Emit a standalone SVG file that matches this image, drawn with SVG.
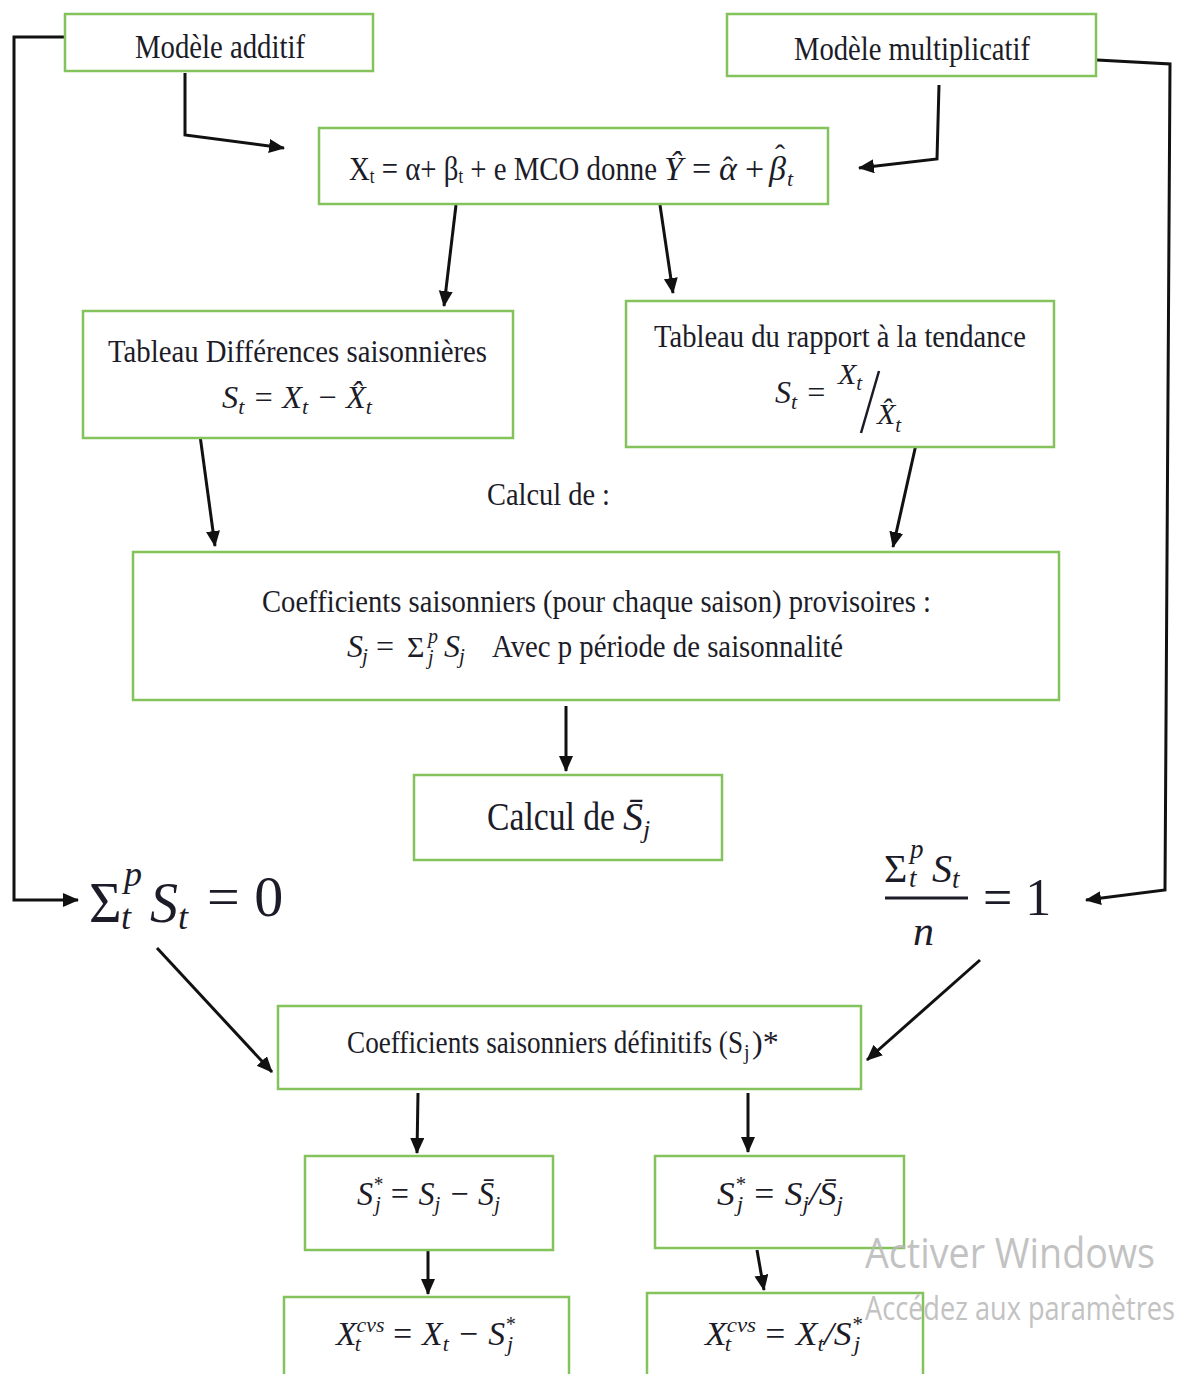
<svg xmlns="http://www.w3.org/2000/svg" width="1191" height="1374" viewBox="0 0 1191 1374">
<defs>
<marker id="ah" markerUnits="userSpaceOnUse" markerWidth="18" markerHeight="16" refX="15" refY="7" orient="auto">
<path d="M0,0 L16,7 L0,14 z" fill="#111"/>
</marker>
<style>
.box{fill:#fff;stroke:#84c25c;stroke-width:2.5}
.t{font-family:"Liberation Serif","Times New Roman",serif;fill:#1c1c28}
.m{font-family:"Liberation Serif","Times New Roman",serif;font-style:italic;fill:#1c1c28}
.c{fill:none;stroke:#111;stroke-width:3}
.wm{font-family:"Open Sans","Noto Sans",sans-serif;fill:#b8b8b8;opacity:0.85}
</style>
</defs>
<rect width="1191" height="1374" fill="#fff"/>

<g id="connectors">
<polyline class="c" points="65,37 14,37 14,900 78,900" marker-end="url(#ah)"/>
<polyline class="c" points="185,73 185,135 284,148" marker-end="url(#ah)"/>
<polyline class="c" points="939,85 937,159 859,168" marker-end="url(#ah)"/>
<polyline class="c" points="1097,60 1170,64 1165,890 1086,900" marker-end="url(#ah)"/>
<line class="c" x1="456" y1="205" x2="444" y2="306" marker-end="url(#ah)"/>
<line class="c" x1="660" y1="205" x2="673" y2="293" marker-end="url(#ah)"/>
<line class="c" x1="199" y1="428" x2="215" y2="546" marker-end="url(#ah)"/>
<line class="c" x1="917" y1="440" x2="893" y2="547" marker-end="url(#ah)"/>
<line class="c" x1="566" y1="706" x2="566" y2="771" marker-end="url(#ah)"/>
<line class="c" x1="157" y1="948" x2="272" y2="1072" marker-end="url(#ah)"/>
<line class="c" x1="980" y1="960" x2="867" y2="1060" marker-end="url(#ah)"/>
<line class="c" x1="418" y1="1093" x2="417" y2="1153" marker-end="url(#ah)"/>
<line class="c" x1="748" y1="1093" x2="748" y2="1152" marker-end="url(#ah)"/>
<line class="c" x1="428" y1="1250" x2="428" y2="1294" marker-end="url(#ah)"/>
<line class="c" x1="757" y1="1250" x2="764" y2="1290" marker-end="url(#ah)"/>
</g>

<g id="modele-additif">
<rect class="box" x="65" y="14" width="308" height="57"/>
<text class="t" x="135" y="58" font-size="34" textLength="170" lengthAdjust="spacingAndGlyphs">Modèle additif</text>
</g>

<g id="modele-multiplicatif">
<rect class="box" x="727" y="14" width="369" height="62"/>
<text class="t" x="794" y="60" font-size="34" textLength="236" lengthAdjust="spacingAndGlyphs">Modèle multiplicatif</text>
</g>

<g id="formule-mco">
<rect class="box" x="319" y="128" width="509" height="76"/>
<text class="t" x="349" y="180" font-size="34" textLength="308" lengthAdjust="spacingAndGlyphs">X<tspan font-size="20" dy="3">t</tspan><tspan dy="-3"> = α+ β</tspan><tspan font-size="20" dy="3">t</tspan><tspan dy="-3"> + e MCO donne</tspan></text>
<text class="m" x="664" y="180" font-size="34">Ŷ</text>
<text class="t" x="692" y="180" font-size="34">=</text>
<text class="m" x="719" y="180" font-size="34">α</text>
<text class="t" x="723" y="177" font-size="30">ˆ</text>
<text class="t" x="745" y="180" font-size="34">+</text>
<text class="m" x="769" y="180" font-size="34">β</text>
<text class="t" x="775" y="165" font-size="30">ˆ</text>
<text class="m" x="787" y="186" font-size="22">t</text>
</g>

<g id="tableau-differences">
<rect class="box" x="83" y="311" width="430" height="127"/>
<text class="t" x="108" y="362" font-size="32" textLength="379" lengthAdjust="spacingAndGlyphs">Tableau Différences saisonnières</text>
<text class="m" x="222" y="408" font-size="32" textLength="150" lengthAdjust="spacingAndGlyphs">S<tspan font-size="22" dy="6">t</tspan><tspan dy="-6"> = X</tspan><tspan font-size="22" dy="6">t</tspan><tspan dy="-6"> − X̂</tspan><tspan font-size="22" dy="6">t</tspan></text>
</g>

<g id="tableau-rapport">
<rect class="box" x="626" y="301" width="428" height="146"/>
<text class="t" x="654" y="347" font-size="32" textLength="372" lengthAdjust="spacingAndGlyphs">Tableau du rapport à la tendance</text>
<text class="m" x="775" y="403" font-size="32">S<tspan font-size="22" dy="6">t</tspan><tspan dy="-6"> =</tspan></text>
<text class="m" x="838" y="384" font-size="30">X<tspan font-size="21" dy="6">t</tspan></text>
<line x1="861" y1="433" x2="879" y2="371" stroke="#1c1c28" stroke-width="2.5"/>
<text class="m" x="877" y="424" font-size="30">X̂<tspan font-size="21" dy="8">t</tspan></text>
</g>

<g id="calcul-de-label">
<text class="t" x="487" y="505" font-size="32" textLength="123" lengthAdjust="spacingAndGlyphs">Calcul de :</text>
</g>

<g id="coefficients-provisoires">
<rect class="box" x="133" y="552" width="926" height="148"/>
<text class="t" x="262" y="612" font-size="32" textLength="669" lengthAdjust="spacingAndGlyphs">Coefficients saisonniers (pour chaque saison) provisoires :</text>
<text class="m" x="347" y="657" font-size="32">S</text>
<text class="m" x="362" y="663" font-size="21">j</text>
<text class="t" x="376" y="657" font-size="32">=</text>
<text class="t" x="407" y="657" font-size="30">Σ</text>
<text class="m" x="428" y="643" font-size="20">p</text>
<text class="m" x="428" y="664" font-size="20">j</text>
<text class="m" x="444" y="657" font-size="32">S</text>
<text class="m" x="459" y="663" font-size="21">j</text>
<text class="t" x="492" y="657" font-size="32" textLength="351" lengthAdjust="spacingAndGlyphs">Avec p période de saisonnalité</text>
</g>

<g id="calcul-sbar">
<rect class="box" x="414" y="775" width="308" height="85"/>
<text class="t" x="487" y="830" font-size="40" textLength="128" lengthAdjust="spacingAndGlyphs">Calcul de</text>
<text class="m" x="623" y="830" font-size="40">S̄<tspan font-size="26" dy="8">j</tspan></text>
</g>

<g id="somme-zero">
<text class="t" x="89" y="922" font-size="56">Σ</text>
<text class="m" x="124" y="886" font-size="36">p</text>
<text class="m" x="121" y="929" font-size="36">t</text>
<text class="m" x="150" y="922" font-size="56">S</text>
<text class="m" x="178" y="929" font-size="36">t</text>
<text class="t" x="207" y="916" font-size="58">= 0</text>
</g>

<g id="somme-un">
<text class="t" x="884" y="882" font-size="40">Σ</text>
<text class="m" x="910" y="858" font-size="27">p</text>
<text class="m" x="909" y="887" font-size="27">t</text>
<text class="m" x="932" y="882" font-size="40">S</text>
<text class="m" x="952" y="888" font-size="27">t</text>
<line x1="885" y1="898" x2="968" y2="898" stroke="#1c1c28" stroke-width="3"/>
<text class="m" x="913" y="945" font-size="42">n</text>
<text class="t" x="983" y="915" font-size="52">= 1</text>
</g>

<g id="coefficients-definitifs">
<rect class="box" x="278" y="1006" width="583" height="83"/>
<text class="t" x="347" y="1053" font-size="32" textLength="396" lengthAdjust="spacingAndGlyphs">Coefficients saisonniers définitifs (S</text>
<text class="t" x="744" y="1059" font-size="20">j</text>
<text class="t" x="752" y="1053" font-size="32">)*</text>
</g>

<g id="sj-etoile-additif">
<rect class="box" x="305" y="1156" width="248" height="94"/>
<text class="m" x="357" y="1205" font-size="34" textLength="143" lengthAdjust="spacingAndGlyphs">S<tspan font-size="20" dy="-14">*</tspan><tspan font-size="22" dx="-8" dy="20">j</tspan><tspan dy="-6"> = S</tspan><tspan font-size="22" dy="6">j</tspan><tspan dy="-6"> − S̄</tspan><tspan font-size="22" dy="6">j</tspan></text>
</g>

<g id="sj-etoile-multiplicatif">
<rect class="box" x="655" y="1156" width="249" height="92"/>
<text class="m" x="717" y="1205" font-size="34" textLength="126" lengthAdjust="spacingAndGlyphs">S<tspan font-size="20" dy="-14">*</tspan><tspan font-size="22" dx="-8" dy="20">j</tspan><tspan dy="-6"> = S</tspan><tspan font-size="22" dy="6">j</tspan><tspan dy="-6">/S̄</tspan><tspan font-size="22" dy="6">j</tspan></text>
</g>

<g id="xcvs-additif">
<rect class="box" x="284" y="1297" width="285" height="90"/>
<text class="m" x="336" y="1345" font-size="34" textLength="179" lengthAdjust="spacingAndGlyphs">X<tspan font-size="22" dy="-13">cvs</tspan><tspan font-size="22" dx="-30" dy="19">t</tspan><tspan dx="22" dy="-6"> = X</tspan><tspan font-size="22" dy="6">t</tspan><tspan dy="-6"> − S</tspan><tspan font-size="20" dy="-14">*</tspan><tspan font-size="22" dx="-8" dy="20">j</tspan></text>
</g>

<g id="xcvs-multiplicatif">
<rect class="box" x="647" y="1293" width="276" height="94"/>
<text class="m" x="705" y="1345" font-size="34" textLength="157" lengthAdjust="spacingAndGlyphs">X<tspan font-size="22" dy="-13">cvs</tspan><tspan font-size="22" dx="-30" dy="19">t</tspan><tspan dx="22" dy="-6"> = X</tspan><tspan font-size="22" dy="6">t</tspan><tspan dy="-6">/S</tspan><tspan font-size="20" dy="-14">*</tspan><tspan font-size="22" dx="-8" dy="20">j</tspan></text>
</g>

<g id="watermark">
<text class="wm" x="865" y="1268" font-size="42" textLength="290" lengthAdjust="spacingAndGlyphs">Activer Windows</text>
<text class="wm" x="865" y="1320" font-size="32" textLength="310" lengthAdjust="spacingAndGlyphs">Accédez aux paramètres</text>
</g>
</svg>
